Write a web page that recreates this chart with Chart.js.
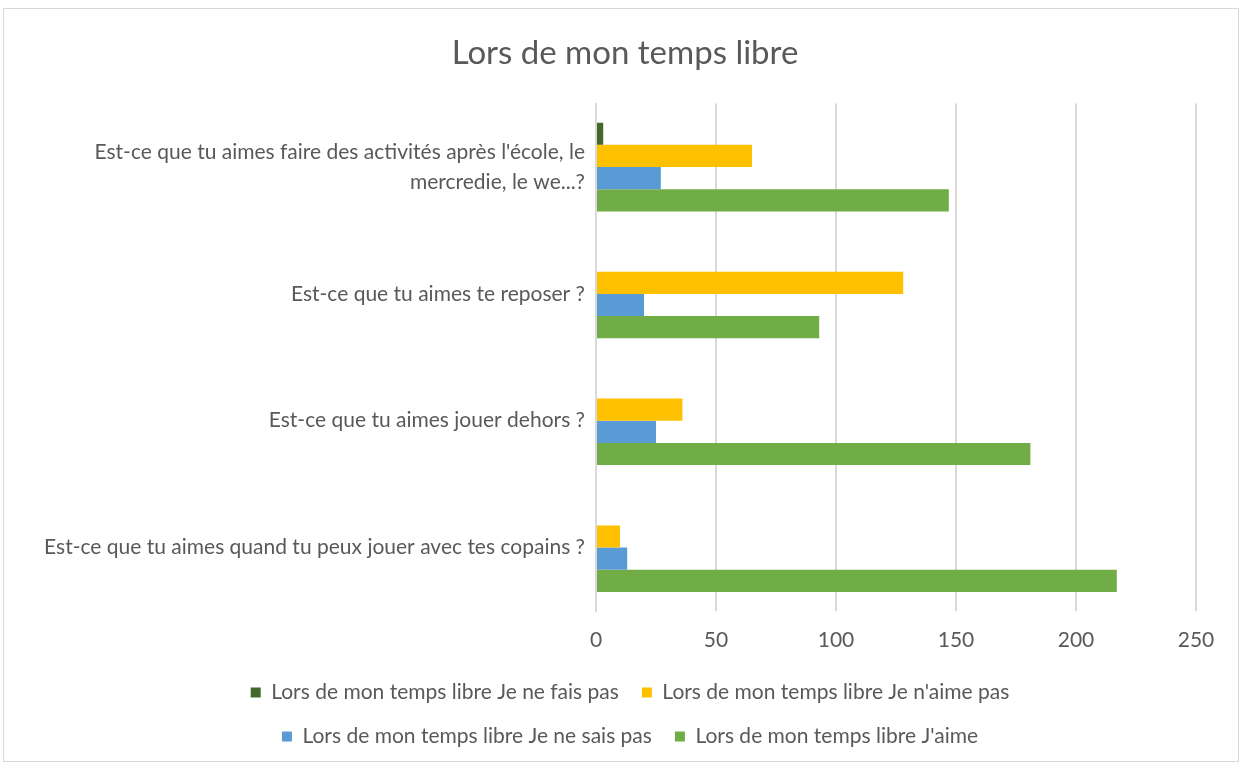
<!DOCTYPE html>
<html>
<head>
<meta charset="utf-8">
<script src="https://cdn.jsdelivr.net/npm/chart.js@4"></script>
<style>
  html, body { margin: 0; padding: 0; background: #fff; }
  #wrap {
    position: absolute; left: 3px; top: 8px;
    width: 1236px; height: 754px;
    border: 1px solid #d9d9d9; box-sizing: border-box;
  }
</style>
</head>
<body>
<div id="wrap"><canvas id="chart"></canvas></div>
<script>
// Data
const questions = [
    ["Est-ce que tu aimes faire des activités après l'école, le", "mercredie, le we...?"],
    "Est-ce que tu aimes te reposer ?",
    "Est-ce que tu aimes jouer dehors ?",
    "Est-ce que tu aimes quand tu peux jouer avec tes copains ?"
];
const neFaisPas = [3, 0, 0, 0];
const naimePas = [65, 128, 36, 10];
const neSaisPas = [27, 20, 25, 13];
const jaime = [147, 93, 181, 217];
const xTicks = [0, 50, 100, 150, 200, 250];

const grey = '#595959';
const fontFamily = 'Lato, "Open Sans", sans-serif';

// nudge title and legend a bit to the right, like Excel centres them
const nudge = {
    id: 'nudge',
    afterLayout(chart) {
        const t = chart.titleBlock, l = chart.legend;
        if (t) { t.left += 10; t.right += 10; }
        if (l) { l.left += 15; l.right += 15; }
    }
};

new Chart(document.getElementById('chart'), {
    type: 'bar',
    data: {
        labels: questions,
        datasets: [
            { label: 'Lors de mon temps libre Je ne fais pas', data: neFaisPas, backgroundColor: '#43682b' },
            { label: "Lors de mon temps libre Je n'aime pas", data: naimePas, backgroundColor: '#ffc000' },
            { label: 'Lors de mon temps libre Je ne sais pas', data: neSaisPas, backgroundColor: '#5b9bd5' },
            { label: "Lors de mon temps libre J'aime", data: jaime, backgroundColor: '#70ad47' }
        ]
    },
    plugins: [nudge],
    options: {
        indexAxis: 'y',
        responsive: true,
        maintainAspectRatio: false,
        animation: false,
        datasets: {
            bar: { barPercentage: 1, categoryPercentage: 0.7, borderWidth: 0 }
        },
        layout: { padding: { left: 30, right: 42, top: 0, bottom: 4 } },
        scales: {
            x: {
                min: 0,
                max: 250,
                afterBuildTicks: (scale) => { scale.ticks = xTicks.map(v => ({ value: v })); },
                afterFit: (scale) => { scale.height = 48; },
                grid: { color: '#d9d9d9', lineWidth: 2, drawTicks: false },
                border: { display: false },
                ticks: { color: grey, padding: 17, font: { family: fontFamily, size: 21 } }
            },
            y: {
                afterFit: (scale) => { scale.width = 562; },
                grid: { display: false, drawTicks: false },
                border: { display: true, color: '#d9d9d9', width: 2 },
                ticks: { color: grey, padding: 11, font: { family: fontFamily, size: 21, lineHeight: 1.45 } }
            }
        },
        plugins: {
            title: {
                display: true,
                text: 'Lors de mon temps libre',
                color: grey,
                font: { family: fontFamily, size: 33, weight: 'normal' },
                padding: { top: 25, bottom: 30 }
            },
            legend: {
                position: 'bottom',
                labels: {
                    color: grey,
                    boxWidth: 10,
                    boxHeight: 10,
                    padding: 23,
                    font: { family: fontFamily, size: 21 }
                }
            },
            tooltip: { enabled: false }
        }
    }
});
</script>
</body>
</html>
